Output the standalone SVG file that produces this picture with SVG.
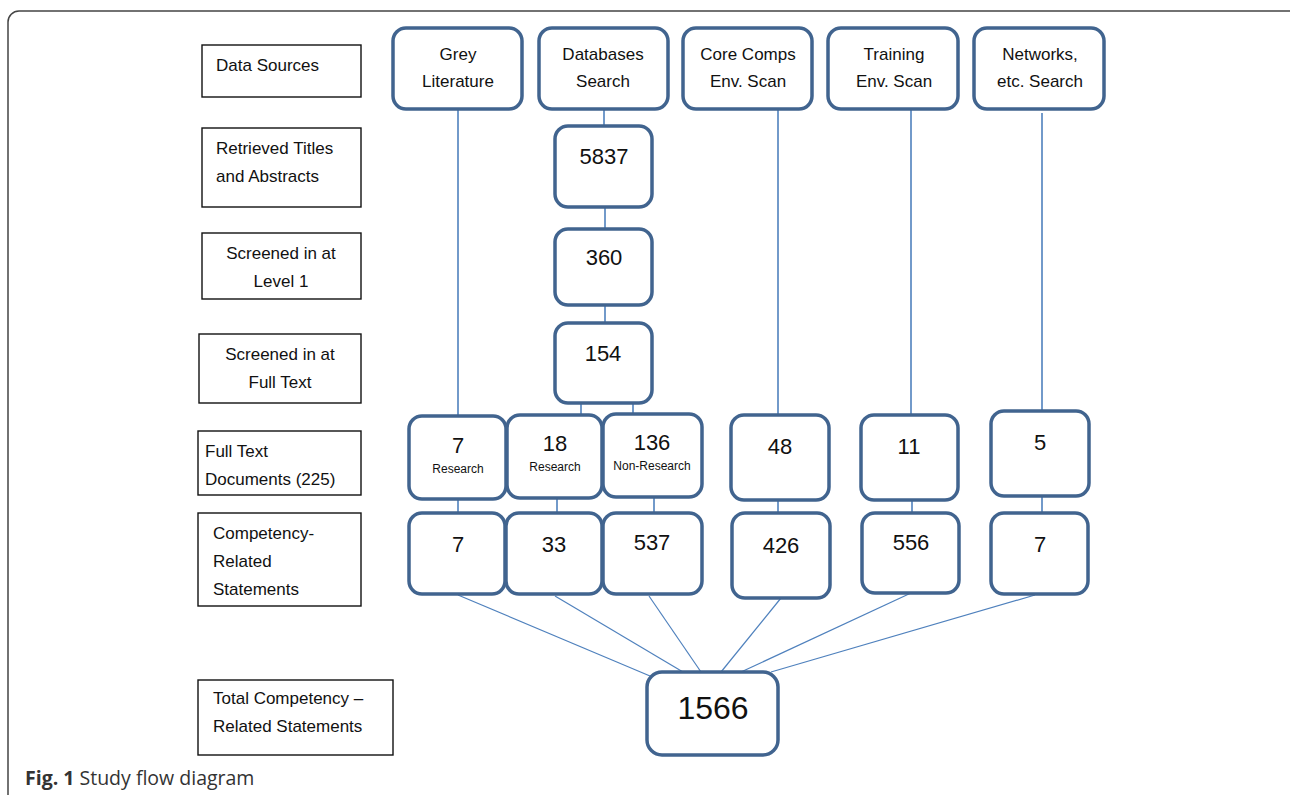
<svg xmlns="http://www.w3.org/2000/svg" width="1290" height="795" viewBox="0 0 1290 795">
<style>
.lbl{fill:#fff;stroke:#111;stroke-width:1.4}
.nd{fill:#fff;stroke:#41648f;stroke-width:3.5}
.t{font-family:"Liberation Sans",Arial,sans-serif;font-size:17px;fill:#111}
.c{text-anchor:middle}
.n{font-family:"Liberation Sans",Arial,sans-serif;font-size:22px;fill:#111;text-anchor:middle}
.s{font-family:"Liberation Sans",Arial,sans-serif;font-size:12px;fill:#111;text-anchor:middle}
.ln{stroke:#4f81bd;stroke-width:1.6;fill:none}
.fn{stroke:#4f81bd;stroke-width:1.2;fill:none}
</style>
<rect x="8" y="11" width="1300" height="820" rx="11" fill="#fff" stroke="#444" stroke-width="1.5"/>

<g id="connectors">
<line class="ln" x1="458" y1="110" x2="458" y2="416"/>
<line class="ln" x1="604" y1="110" x2="604" y2="126"/>
<line class="ln" x1="605" y1="207" x2="605" y2="229"/>
<line class="ln" x1="605" y1="305" x2="605" y2="323"/>
<line class="ln" x1="581" y1="403" x2="581" y2="415"/>
<line class="ln" x1="633" y1="403" x2="633" y2="414"/>
<line class="ln" x1="778" y1="110" x2="778" y2="415"/>
<line class="ln" x1="911" y1="110" x2="911" y2="415"/>
<line class="ln" x1="1042" y1="113" x2="1042" y2="411"/>
<line class="ln" x1="458" y1="499" x2="458" y2="513"/>
<line class="ln" x1="557" y1="498" x2="557" y2="513"/>
<line class="ln" x1="654" y1="497" x2="654" y2="513"/>
<line class="ln" x1="778" y1="500" x2="778" y2="513"/>
<line class="ln" x1="912" y1="500" x2="912" y2="513"/>
<line class="ln" x1="1042" y1="496" x2="1042" y2="513"/>
<line class="fn" x1="458" y1="595" x2="650" y2="676"/>
<line class="fn" x1="555" y1="596" x2="683" y2="672"/>
<line class="fn" x1="649" y1="596" x2="701" y2="672"/>
<line class="fn" x1="781" y1="598" x2="721" y2="672"/>
<line class="fn" x1="911" y1="593" x2="741" y2="672"/>
<line class="fn" x1="1035" y1="595" x2="771" y2="672"/>
</g>

<g id="lbl-data-sources"><rect class="lbl" x="202" y="45" width="159" height="52"/><text class="t" x="216" y="71">Data Sources</text></g>
<g id="lbl-retrieved"><rect class="lbl" x="202" y="128" width="159" height="79"/><text class="t" x="216" y="154">Retrieved Titles</text><text class="t" x="216" y="182">and Abstracts</text></g>
<g id="lbl-level1"><rect class="lbl" x="202" y="233" width="159" height="66"/><text class="t c" x="281" y="259">Screened in at</text><text class="t c" x="281" y="287">Level 1</text></g>
<g id="lbl-fulltext"><rect class="lbl" x="199" y="334" width="162" height="69"/><text class="t c" x="280" y="360">Screened in at</text><text class="t c" x="280" y="388">Full Text</text></g>
<g id="lbl-docs"><rect class="lbl" x="198" y="431" width="163" height="64"/><text class="t" x="205" y="457">Full Text</text><text class="t" x="205" y="485">Documents (225)</text></g>
<g id="lbl-comp"><rect class="lbl" x="198" y="513" width="163" height="93"/><text class="t" x="213" y="539">Competency-</text><text class="t" x="213" y="567">Related</text><text class="t" x="213" y="595">Statements</text></g>
<g id="lbl-total"><rect class="lbl" x="198" y="680" width="195" height="75"/><text class="t" x="213" y="704">Total Competency –</text><text class="t" x="213" y="732">Related Statements</text></g>

<g id="src-grey"><rect class="nd" x="393" y="28" width="129" height="81" rx="13"/><text class="t c" x="458" y="60">Grey</text><text class="t c" x="458" y="87">Literature</text></g>
<g id="src-db"><rect class="nd" x="539" y="28" width="129" height="81" rx="13"/><text class="t c" x="603" y="60">Databases</text><text class="t c" x="603" y="87">Search</text></g>
<g id="src-core"><rect class="nd" x="683" y="28" width="129" height="81" rx="13"/><text class="t c" x="748" y="60">Core Comps</text><text class="t c" x="748" y="87">Env. Scan</text></g>
<g id="src-training"><rect class="nd" x="828" y="28" width="130" height="81" rx="13"/><text class="t c" x="894" y="60">Training</text><text class="t c" x="894" y="87">Env. Scan</text></g>
<g id="src-networks"><rect class="nd" x="974" y="28" width="130" height="81" rx="13"/><text class="t c" x="1040" y="60">Networks,</text><text class="t c" x="1040" y="87">etc. Search</text></g>

<g id="n5837"><rect class="nd" x="555" y="126" width="97" height="81" rx="13"/><text class="n" x="604" y="164">5837</text></g>
<g id="n360"><rect class="nd" x="555" y="229" width="97" height="76" rx="13"/><text class="n" x="604" y="265">360</text></g>
<g id="n154"><rect class="nd" x="555" y="323" width="97" height="80" rx="13"/><text class="n" x="603" y="361">154</text></g>

<g id="d7"><rect class="nd" x="409" y="416" width="97" height="83" rx="13"/><text class="n" x="458" y="453">7</text><text class="s" x="458" y="473">Research</text></g>
<g id="d18"><rect class="nd" x="507" y="415" width="95" height="83" rx="13"/><text class="n" x="555" y="451">18</text><text class="s" x="555" y="471">Research</text></g>
<g id="d136"><rect class="nd" x="603" y="414" width="99" height="83" rx="13"/><text class="n" x="652" y="450">136</text><text class="s" x="652" y="470">Non-Research</text></g>
<g id="d48"><rect class="nd" x="731" y="415" width="98" height="85" rx="13"/><text class="n" x="780" y="454">48</text></g>
<g id="d11"><rect class="nd" x="861" y="415" width="97" height="85" rx="13"/><text class="n" x="909" y="454">11</text></g>
<g id="d5"><rect class="nd" x="991" y="411" width="98" height="85" rx="13"/><text class="n" x="1040" y="450">5</text></g>

<g id="c7"><rect class="nd" x="409" y="513" width="96" height="81" rx="13"/><text class="n" x="458" y="552">7</text></g>
<g id="c33"><rect class="nd" x="506" y="513" width="96" height="81" rx="13"/><text class="n" x="554" y="552">33</text></g>
<g id="c537"><rect class="nd" x="603" y="513" width="99" height="81" rx="13"/><text class="n" x="652" y="550">537</text></g>
<g id="c426"><rect class="nd" x="732" y="513" width="98" height="85" rx="13"/><text class="n" x="781" y="553">426</text></g>
<g id="c556"><rect class="nd" x="862" y="513" width="97" height="80" rx="13"/><text class="n" x="911" y="550">556</text></g>
<g id="c7b"><rect class="nd" x="991" y="513" width="97" height="81" rx="13"/><text class="n" x="1040" y="552">7</text></g>

<g id="total"><rect class="nd" x="647" y="672" width="131" height="83" rx="15"/><text class="n" x="713" y="719" style="font-size:32px">1566</text></g>

<g id="caption"><text x="25" y="785" style="font-family:'Open Sans','Liberation Sans',sans-serif;font-size:19.5px;fill:#333"><tspan font-weight="bold">Fig. 1</tspan> Study flow diagram</text></g>
</svg>
